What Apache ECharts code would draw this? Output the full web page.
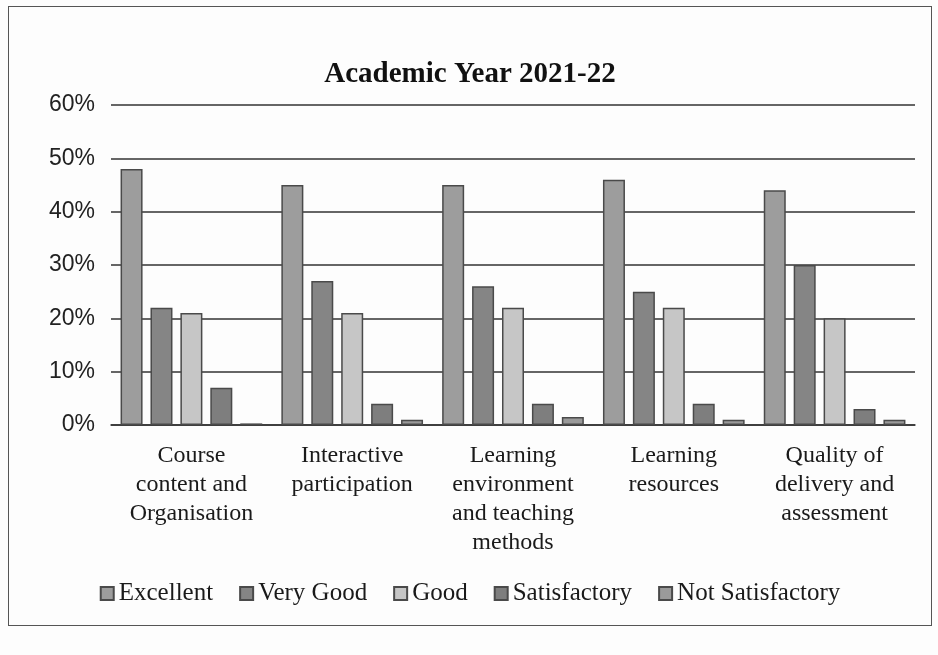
<!DOCTYPE html>
<html>
<head>
<meta charset="utf-8">
<script src="https://cdn.jsdelivr.net/npm/echarts@6/dist/echarts.min.js"></script>
<style>
  html, body { margin: 0; padding: 0; background: #fdfdfd; }
  #chart { position: absolute; left: 8px; top: 6px; width: 924px; height: 620px; border: 1px solid #555; box-sizing: border-box; }
</style>
</head>
<body>
<div id="chart"></div>
<script>
// values (percent)
var categories = [
  'Course\ncontent and\nOrganisation',
  'Interactive\nparticipation',
  'Learning\nenvironment\nand teaching\nmethods',
  'Learning\nresources',
  'Quality of\ndelivery and\nassessment'
];
var excellent = [48, 45, 45, 46, 44];
var veryGood = [22, 27, 26, 25, 30];
var good = [21, 21, 22, 22, 20];
var satisfactory = [7, 4, 4, 4, 3];
var notSatisfactory = [0.3, 1, 1.5, 1, 1];

var seriesNames = ['Excellent', 'Very Good', 'Good', 'Satisfactory', 'Not Satisfactory'];
var seriesData = [excellent, veryGood, good, satisfactory, notSatisfactory];
var fills = ['#9d9d9d', '#858585', '#c6c6c6', '#7e7e7e', '#9a9a9a'];

var chartDom = document.getElementById('chart');
var myChart = echarts.init(chartDom);
var serif = '"Liberation Serif", "DejaVu Serif", serif';

var option = {
  animation: false,
  backgroundColor: '#fdfdfd',
  title: {
    text: 'Academic Year 2021-22',
    left: 'center',
    top: 48,
    textStyle: { fontFamily: serif, fontSize: 29, fontWeight: 'bold', color: '#111' }
  },
  legend: {
    bottom: 14,
    left: 'center',
    itemWidth: 13,
    itemHeight: 13,
    itemGap: 26,
    icon: 'rect',
    textStyle: { fontFamily: serif, fontSize: 25, color: '#1a1a1a' },
    data: seriesNames
  },
  grid: { left: 102, right: 16, top: 98, bottom: 200 },
  xAxis: {
    type: 'category',
    data: categories,
    axisLine: { show: true, lineStyle: { color: '#333', width: 1.5 } },
    axisTick: { show: false },
    axisLabel: {
      fontFamily: serif,
      fontSize: 24,
      lineHeight: 29,
      color: '#1a1a1a',
      margin: 16,
      interval: 0
    }
  },
  yAxis: {
    type: 'value',
    min: 0,
    max: 60,
    interval: 10,
    axisLabel: {
      formatter: '{value}%',
      fontFamily: '"Liberation Sans", Arial, sans-serif',
      fontSize: 23,
      color: '#222',
      margin: 16
    },
    axisLine: { show: false },
    axisTick: { show: false },
    splitLine: { lineStyle: { color: '#333', width: 1.5 } }
  },
  series: seriesNames.map(function (name, i) {
    return {
      name: name,
      type: 'bar',
      data: seriesData[i],
      barWidth: 22,
      barGap: '36%',
      itemStyle: { color: fills[i], borderColor: '#4a4a4a', borderWidth: 1.5 }
    };
  })
};

myChart.setOption(option);
</script>
</body>
</html>
